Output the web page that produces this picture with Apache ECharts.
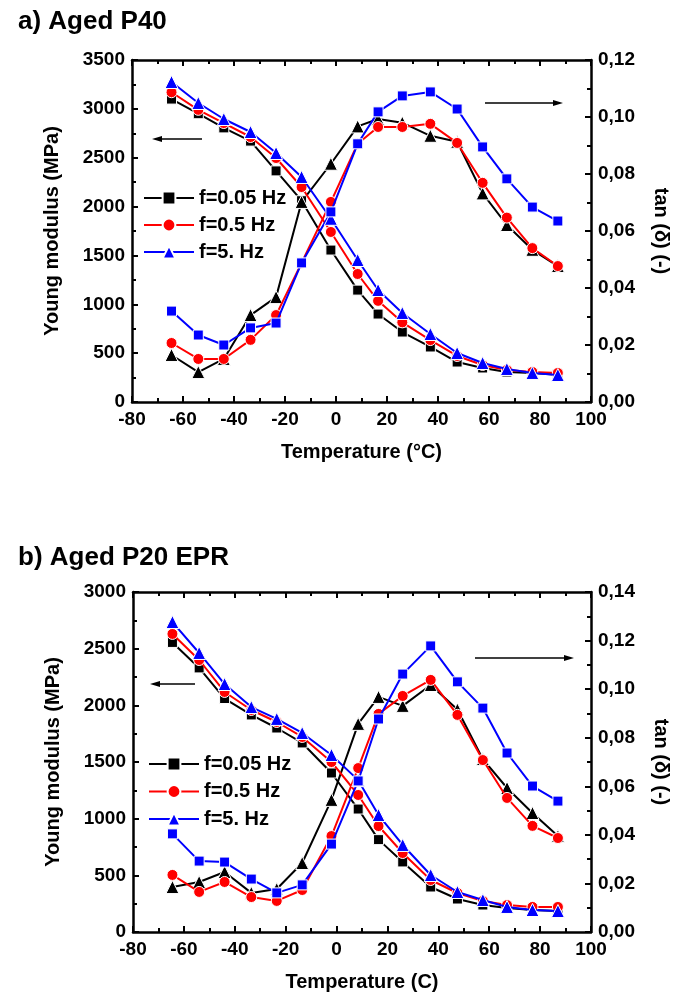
<!DOCTYPE html>
<html>
<head>
<meta charset="utf-8">
<script src="https://cdn.jsdelivr.net/npm/echarts@6/dist/echarts.min.js"></script>
<style>
html,body{margin:0;padding:0;background:#fff;}
#c{width:679px;height:998px;}
</style>
</head>
<body>
<div id="c"></div>
<script>
// ---- data ----
const temperature = [-64.5, -54, -44, -33.5, -23.5, -13.5, -2, 8.5, 16.5, 26, 37, 47.5, 57.5, 67, 77, 87];
const freqNames = ['f=0.05 Hz', 'f=0.5 Hz', 'f=5. Hz'];

// a) Aged P40
const modA_005 = [3100, 2950, 2805, 2670, 2365, 2060, 1555, 1145, 900, 716, 563, 409, 348, 307, 297, 280];
const modA_05  = [3170, 2990, 2855, 2712, 2497, 2200, 1740, 1310, 1035, 815, 634, 471, 379, 328, 307, 297];
const modA_5   = [3275, 3060, 2896, 2763, 2548, 2303, 1875, 1453, 1146, 911, 696, 501, 399, 338, 297, 276];
const tanA_005 = [0.0165, 0.0105, 0.0151, 0.0305, 0.0368, 0.0702, 0.0836, 0.0967, 0.0993, 0.0980, 0.0934, 0.0913, 0.0732, 0.0621, 0.0534, 0.0477];
const tanA_05  = [0.0207, 0.0151, 0.0151, 0.0218, 0.0305, 0.0488, 0.0702, 0.0906, 0.0965, 0.0965, 0.0976, 0.0909, 0.0769, 0.0647, 0.0540, 0.0477];
const tanA_5   = [0.0319, 0.0235, 0.0200, 0.0260, 0.0277, 0.0488, 0.0667, 0.0906, 0.1018, 0.1074, 0.1088, 0.1028, 0.0895, 0.0783, 0.0684, 0.0635];

// b) Aged P20 EPR
const modB_005 = [2555, 2330, 2060, 1915, 1800, 1668, 1403, 1085, 815, 618, 397, 291, 238, 212, 194, 185];
const modB_05  = [2630, 2400, 2118, 1959, 1853, 1721, 1500, 1209, 935, 697, 459, 344, 274, 238, 221, 221];
const modB_5   = [2735, 2462, 2188, 1985, 1880, 1756, 1562, 1340, 1032, 768, 503, 353, 282, 221, 194, 185];
const tanB_005 = [0.0185, 0.0206, 0.0247, 0.0161, 0.0177, 0.0284, 0.0544, 0.0857, 0.0968, 0.0931, 0.1017, 0.0916, 0.0712, 0.0593, 0.0490, 0.0395];
const tanB_05  = [0.0235, 0.0165, 0.0206, 0.0144, 0.0128, 0.0173, 0.0395, 0.0675, 0.0898, 0.0972, 0.1038, 0.0894, 0.0708, 0.0552, 0.0437, 0.0387];
const tanB_5   = [0.0404, 0.0292, 0.0288, 0.0218, 0.0161, 0.0194, 0.0362, 0.0622, 0.0877, 0.1062, 0.1178, 0.1030, 0.0922, 0.0737, 0.0601, 0.0539];

// ---- styles ----
const FONT = 'Liberation Sans';
const colors = ['#000000', '#ff0000', '#0000ff'];
const modSymbols = ['rect', 'circle', 'triangle'];
const tanSymbols = ['triangle', 'circle', 'rect'];
const symSize = {rect: 10, circle: 11, triangle: 13};

function pairs(vals){ return temperature.map((t,i)=>[t, vals[i]]); }

function mkSeries(name, vals, k, sym, xi, yi){
  return {
    name: name, type: 'line', data: pairs(vals),
    xAxisIndex: xi, yAxisIndex: yi,
    symbol: sym, symbolSize: symSize[sym],
    lineStyle: {color: colors[k], width: 2},
    itemStyle: {color: colors[k], borderColor: '#fff', borderWidth: 1},
    emphasis: {disabled: true}, animation: false, z: 2 + k
  };
}

const axisLineStyle = {show: true, onZero: false, lineStyle: {color: '#000', width: 2.5}};
const tickStyle = {inside: true, length: 6, lineStyle: {width: 2, color: '#000'}};
const minorStyle = {show: true, splitNumber: 2, length: 4, lineStyle: {width: 2, color: '#000'}};
const labelStyle = {color: '#000', fontFamily: FONT, fontWeight: 'bold', fontSize: 19};
const nameStyle = {color: '#000', fontFamily: FONT, fontWeight: 'bold', fontSize: 20};

function xAxes(gi, title){
  return [{
    gridIndex: gi, type: 'value', min: -80, max: 100, interval: 20, position: 'bottom',
    axisLine: axisLineStyle, axisTick: tickStyle, minorTick: minorStyle,
    splitLine: {show: false},
    axisLabel: Object.assign({margin: 8, formatter: v => String(v)}, labelStyle),
    name: title, nameLocation: 'middle', nameGap: 40, nameTextStyle: nameStyle
  },{
    gridIndex: gi, type: 'value', min: -80, max: 100, interval: 20, position: 'top',
    axisLine: axisLineStyle, axisTick: tickStyle, minorTick: minorStyle,
    splitLine: {show: false}, axisLabel: {show: false}
  }];
}
function yAxes(gi, maxL, maxR){
  return [{
    gridIndex: gi, type: 'value', min: 0, max: maxL, interval: 500, position: 'left',
    axisLine: axisLineStyle, axisTick: tickStyle, minorTick: minorStyle,
    splitLine: {show: false},
    axisLabel: Object.assign({margin: 7, formatter: v => String(v)}, labelStyle),
    name: 'Young modulus (MPa)', nameLocation: 'middle', nameGap: 70, nameRotate: 90, nameTextStyle: nameStyle
  },{
    gridIndex: gi, type: 'value', min: 0, max: maxR, interval: 0.02, position: 'right',
    axisLine: axisLineStyle, axisTick: tickStyle, minorTick: minorStyle,
    splitLine: {show: false},
    axisLabel: Object.assign({margin: 7, formatter: v => v.toFixed(2).replace('.', ',')}, labelStyle),
    name: 'tan (\u03b4) (-)', nameLocation: 'middle', nameGap: 60, nameRotate: -90, nameTextStyle: nameStyle
  }];
}

function arrow(x1, x2, y){
  const dir = x2 > x1 ? 1 : -1;
  return {
    type: 'group', silent: true, children: [
      {type: 'line', shape: {x1: x1, y1: y, x2: x2 - dir*8, y2: y}, style: {stroke: '#000', lineWidth: 1.5}},
      {type: 'polygon', shape: {points: [[x2, y], [x2 - dir*10, y - 3], [x2 - dir*10, y + 3]]}, style: {fill: '#000'}}
    ]
  };
}

const series = [
  mkSeries(freqNames[0], modA_005, 0, modSymbols[0], 0, 0),
  mkSeries(freqNames[1], modA_05, 1, modSymbols[1], 0, 0),
  mkSeries(freqNames[2], modA_5, 2, modSymbols[2], 0, 0),
  mkSeries('tanA ' + freqNames[0], tanA_005, 0, tanSymbols[0], 0, 1),
  mkSeries('tanA ' + freqNames[1], tanA_05, 1, tanSymbols[1], 0, 1),
  mkSeries('tanA ' + freqNames[2], tanA_5, 2, tanSymbols[2], 0, 1),
  mkSeries('B ' + freqNames[0], modB_005, 0, modSymbols[0], 2, 2),
  mkSeries('B ' + freqNames[1], modB_05, 1, modSymbols[1], 2, 2),
  mkSeries('B ' + freqNames[2], modB_5, 2, modSymbols[2], 2, 2),
  mkSeries('tanB ' + freqNames[0], tanB_005, 0, tanSymbols[0], 2, 3),
  mkSeries('tanB ' + freqNames[1], tanB_05, 1, tanSymbols[1], 2, 3),
  mkSeries('tanB ' + freqNames[2], tanB_5, 2, tanSymbols[2], 2, 3)
];

const legendText = {color: '#000', fontFamily: FONT, fontWeight: 'bold', fontSize: 20};
const chart = echarts.init(document.getElementById('c'), null, {renderer: 'canvas'});
chart.setOption({
  animation: false,
  backgroundColor: '#fff',
  title: [
    {text: 'a) Aged P40', left: 13, top: 4, textStyle: {color: '#000', fontFamily: FONT, fontWeight: 'bold', fontSize: 26}},
    {text: 'b) Aged P20 EPR', left: 13, top: 540, textStyle: {color: '#000', fontFamily: FONT, fontWeight: 'bold', fontSize: 26}}
  ],
  grid: [
    {left: 132, top: 60, width: 465, height: 342},
    {left: 133, top: 592, width: 465, height: 340}
  ],
  xAxis: [].concat(xAxes(0, 'Temperature (\u00b0C)'), xAxes(1, 'Temperature (C)')),
  yAxis: [].concat(yAxes(0, 3500, 0.12), yAxes(1, 3000, 0.14)),
  legend: [
    {data: freqNames, orient: 'vertical', left: 138, top: 183, itemWidth: 50, itemHeight: 16, itemGap: 7,
     textStyle: legendText, selectedMode: false},
    {data: freqNames, orient: 'vertical', left: 143, top: 749, itemWidth: 50, itemHeight: 16, itemGap: 7.5,
     textStyle: legendText, selectedMode: false}
  ],
  graphic: [
    arrow(202, 152, 139),
    arrow(485, 563, 103),
    arrow(195, 150, 684),
    arrow(475, 574, 658)
  ],
  series: series
});
</script>
</body>
</html>
